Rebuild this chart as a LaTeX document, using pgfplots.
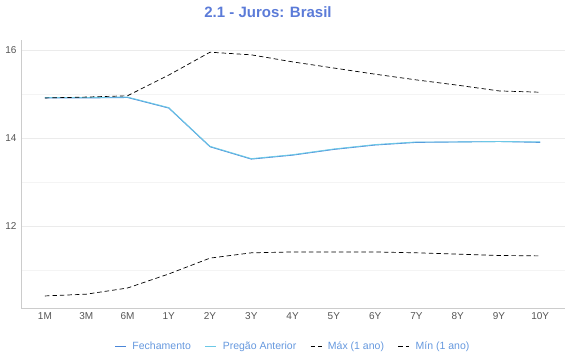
\documentclass[border=0pt]{standalone}
\usepackage{pgfplots}
\pgfplotsset{compat=1.18}
\usepackage{fontspec}
\setmainfont{Liberation Sans}
\definecolor{ttl}{HTML}{5B7BD8}
\definecolor{fech}{HTML}{4A86D8}
\definecolor{preg}{HTML}{6CC8E6}
\definecolor{tick}{HTML}{555555}
\definecolor{gridc}{HTML}{EBEBEB}
\definecolor{gridm}{HTML}{F4F4F4}
\definecolor{axc}{HTML}{CCCCCC}
\begin{document}
\begin{tikzpicture}[x=1pt,y=1pt]
\path (0,0) rectangle (570,360);
\node[font=\bfseries\fontsize{15}{18}\selectfont, text=ttl] at (268,348) {2.1 - Juros: Brasil};
\begin{axis}[
  at={(21pt,52pt)}, anchor=south west,
  scale only axis, width=544pt, height=268pt,
  xmin=-0.58, xmax=12.6, ymin=10.136, ymax=16.227,
  axis x line*=bottom, axis y line*=left,
  axis line style={axc, line width=0.8pt},
  xtick={0,...,12},
  xticklabels={1M,3M,6M,1Y,2Y,3Y,4Y,5Y,6Y,7Y,8Y,9Y,10Y},
  ytick={12,14,16}, minor ytick={11,13,15},
  ymajorgrids, yminorgrids,
  major grid style={gridc, line width=0.8pt},
  minor grid style={gridm, line width=0.8pt},
  major tick length=0pt, minor tick length=0pt,
  tick label style={font=\fontsize{10}{12}\selectfont, text=tick},
  xticklabel style={yshift=-1pt},
  yticklabel style={xshift=-1pt},
  /pgf/number format/assume math mode=true,
  legend style={at={(0.5,-0.11)}, anchor=north, draw=none, fill=none,
    legend columns=4, font=\fontsize{10.5}{12}\selectfont, text=fech!85!white,
    /tikz/every odd column/.append style={column sep=4pt},
    /tikz/every even column/.append style={column sep=12pt}},
  legend image code/.code={\draw[#1] (0pt,0pt) -- (11pt,0pt);},
]
\addplot[fech, line width=0.9pt] coordinates {
(0,14.91) (1,14.91) (2,14.92) (3,14.68) (4,13.80) (5,13.52) (6,13.61) (7,13.74) (8,13.84) (9,13.90) (10,13.91) (11,13.92) (12,13.90)};
\addlegendentry{Fechamento}
\addplot[preg, line width=0.9pt] coordinates {
(0,14.92) (1,14.92) (2,14.93) (3,14.69) (4,13.81) (5,13.53) (6,13.62) (7,13.75) (8,13.85) (9,13.91) (10,13.91) (11,13.92) (12,13.91)};
\addlegendentry{Pregão Anterior}
\addplot[black, line width=0.7pt, dash pattern=on 4.5pt off 3pt] coordinates {
(0,14.91) (1,14.93) (2,14.96) (3,15.43) (4,15.95) (5,15.89) (6,15.73) (7,15.59) (8,15.45) (9,15.32) (10,15.20) (11,15.07) (12,15.04)};
\addlegendentry{Máx (1 ano)}
\addplot[black, line width=0.7pt, dash pattern=on 4.5pt off 3pt] coordinates {
(0,10.41) (1,10.45) (2,10.59) (3,10.91) (4,11.27) (5,11.39) (6,11.41) (7,11.41) (8,11.41) (9,11.39) (10,11.36) (11,11.33) (12,11.32)};
\addlegendentry{Mín (1 ano)}
\end{axis}
\end{tikzpicture}
\end{document}
